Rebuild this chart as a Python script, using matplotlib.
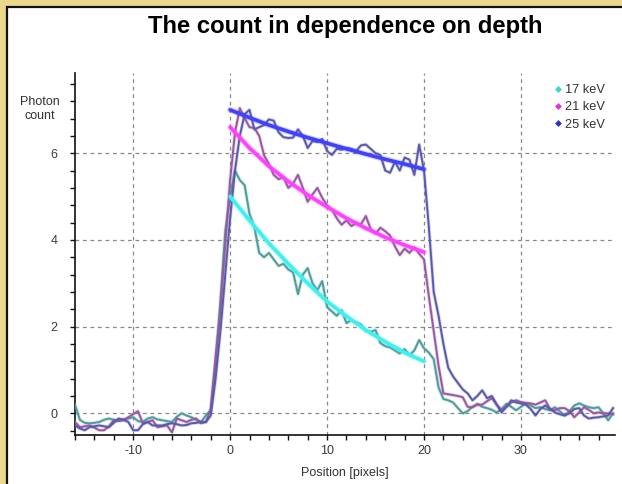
import numpy as np
import matplotlib
matplotlib.use("Agg")
import matplotlib.pyplot as plt
from matplotlib.lines import Line2D
from matplotlib.patches import Rectangle
from matplotlib.ticker import MultipleLocator
import matplotlib.patheffects as pe

plt.rcParams['font.family'] = ['Liberation Sans', 'DejaVu Sans']
plt.rcParams['axes.unicode_minus'] = False

# measured profiles, sampled every half pixel from -16 to 39.5
position = np.arange(-16, 40, 0.5)

count_17 = [
    0.20, -0.15, -0.22, -0.23, -0.22, -0.20, -0.15, -0.12,
    -0.15, -0.16, -0.14, -0.12, -0.09, -0.18, -0.20, -0.12,
    -0.09, -0.14, -0.16, -0.18, -0.20, -0.08, 0.00, -0.05,
    -0.09, -0.15, -0.20, -0.05, 0.07, 1.10, 2.60, 4.20,
    5.00, 5.60, 5.38, 5.26, 4.60, 4.30, 3.70, 3.60,
    3.70, 3.55, 3.40, 3.45, 3.32, 3.25, 2.75, 3.20,
    3.35, 3.00, 2.84, 3.05, 2.45, 2.35, 2.25, 2.38,
    2.08, 2.15, 2.10, 2.05, 1.90, 1.88, 1.92, 1.62,
    1.55, 1.52, 1.45, 1.38, 1.48, 1.34, 1.45, 1.69,
    1.50, 1.40, 1.25, 0.60, 0.33, 0.30, 0.25, 0.12,
    0.00, 0.05, 0.15, 0.22, 0.15, 0.12, 0.08, 0.02,
    0.10, 0.22, 0.15, 0.07, 0.15, 0.23, 0.18, 0.12,
    0.14, 0.10, 0.07, 0.14, 0.05, -0.05, 0.05, 0.18,
    0.23, 0.18, 0.14, 0.12, 0.14, 0.00, -0.16, 0.00,
]

count_21 = [
    -0.20, -0.32, -0.30, -0.28, -0.33, -0.39, -0.39, -0.30,
    -0.16, -0.18, -0.16, -0.09, -0.02, 0.05, -0.23, -0.20,
    -0.16, -0.32, -0.30, -0.28, -0.44, -0.12, -0.16, -0.20,
    -0.15, -0.12, -0.23, -0.20, 0.10, 1.30, 2.40, 3.90,
    5.38, 6.47, 7.04, 6.81, 6.60, 6.58, 6.40, 5.95,
    5.75, 5.50, 5.40, 5.45, 5.20, 5.30, 5.50, 5.20,
    4.88, 5.05, 5.20, 4.97, 4.80, 4.70, 4.50, 4.35,
    4.45, 4.32, 4.38, 4.36, 4.55, 4.25, 4.15, 4.28,
    4.20, 4.10, 3.85, 3.65, 3.80, 3.70, 3.83, 3.68,
    3.55, 2.70, 1.90, 1.10, 0.46, 0.44, 0.42, 0.40,
    0.37, 0.15, 0.14, 0.20, 0.20, 0.28, 0.35, 0.20,
    0.07, 0.15, 0.25, 0.30, 0.26, 0.24, 0.23, 0.20,
    0.25, 0.30, 0.10, 0.07, 0.12, 0.12, 0.05, -0.09,
    0.02, 0.14, 0.08, 0.00, 0.02, 0.00, 0.00, -0.02,
]

count_25 = [
    -0.28, -0.35, -0.39, -0.32, -0.30, -0.28, -0.30, -0.32,
    -0.22, -0.12, -0.15, -0.20, -0.39, -0.39, -0.25, -0.20,
    -0.28, -0.28, -0.28, -0.25, -0.23, -0.25, -0.28, -0.27,
    -0.23, -0.22, -0.20, -0.20, -0.05, 0.80, 1.90, 3.20,
    4.50, 5.60, 6.40, 6.90, 7.00, 6.55, 6.60, 6.65,
    6.78, 6.75, 6.48, 6.37, 6.35, 6.36, 6.55, 6.40,
    6.12, 6.28, 6.26, 6.33, 6.05, 5.96, 6.10, 6.08,
    6.12, 6.10, 6.05, 6.18, 6.20, 6.10, 6.00, 5.96,
    5.60, 5.55, 5.80, 5.60, 5.90, 5.85, 5.50, 6.20,
    5.60, 4.30, 2.80, 2.25, 1.60, 1.05, 0.85, 0.70,
    0.55, 0.46, 0.30, 0.40, 0.53, 0.35, 0.40, 0.20,
    0.02, 0.15, 0.30, 0.25, 0.23, 0.20, 0.10, -0.05,
    0.10, 0.18, 0.10, 0.02, -0.02, -0.05, 0.00, 0.10,
    0.12, -0.05, -0.12, -0.10, -0.09, -0.07, -0.05, 0.12,
]

# fitted curves inside the sample (0..20)
fit_x = [0, 2, 4, 6, 8, 10, 12, 14, 16, 18, 20]
fit_17 = [5.0, 4.45, 3.92, 3.45, 3.0, 2.58, 2.24, 1.92, 1.65, 1.4, 1.2]
fit_21 = [6.6, 6.12, 5.7, 5.35, 5.04, 4.76, 4.5, 4.27, 4.06, 3.88, 3.72]
fit_25 = [7.0, 6.82, 6.65, 6.5, 6.36, 6.23, 6.1, 5.98, 5.86, 5.75, 5.63]

labels = ['17 keV', '21 keV', '25 keV']
raw_colors = ['#4f9c9c', '#9a58a2', '#5a5aaa']
fit_colors = ['#3ff0f0', '#ff40ff', '#4040ff']
legend_colors = ['#30d8d8', '#e030e0', '#3030c8']

fig = plt.figure(figsize=(6.22, 4.84), dpi=100)
fig.patch.set_facecolor('#ecd88a')
fig.patches.append(Rectangle((7 / 622, -0.05), 1.0, 1 - 7 / 484 + 0.05,
                             transform=fig.transFigure, facecolor='white',
                             edgecolor='#111111', linewidth=1.6, zorder=-10))

ax = fig.add_axes([75 / 622, 49 / 484, 540 / 622, 362 / 484])
ax.set_facecolor('none')

for ys, c in zip([count_17, count_21, count_25], raw_colors):
    ax.plot(position, ys, color=c, lw=1.4, zorder=3,
            path_effects=[pe.Stroke(linewidth=2.6, foreground=c, alpha=0.25), pe.Normal()])

for ys, c in zip([fit_17, fit_21, fit_25], fit_colors):
    ax.plot(fit_x, ys, color=c, lw=2.6, zorder=4, solid_capstyle='round',
            path_effects=[pe.Stroke(linewidth=4.2, foreground=c, alpha=0.25), pe.Normal()])

ax.set_xlim(-16, 39.7)
ax.set_ylim(-0.5, 7.85)
ax.xaxis.set_major_locator(MultipleLocator(10))
ax.xaxis.set_minor_locator(MultipleLocator(2))
ax.yaxis.set_major_locator(MultipleLocator(2))
ax.yaxis.set_minor_locator(MultipleLocator(0.4))

for s in ['top', 'right']:
    ax.spines[s].set_visible(False)
for s in ['left', 'bottom']:
    ax.spines[s].set_linewidth(1.2)
    ax.spines[s].set_color('#111111')

ax.tick_params(which='both', direction='out', length=3.5, width=1, color='#111111',
               labelsize=9, labelcolor='#3a3a3a')
ax.tick_params(axis='y', which='major', pad=9)
ax.tick_params(axis='x', which='major', pad=4)
ax.grid(True, which='major', color='#888888', linestyle=(0, (3, 3)), linewidth=0.9)

fig.text(345 / 622, 1 - 27 / 484, 'The count in dependence on depth',
         ha='center', va='center', fontsize=17.2, fontweight='bold', color='black')
fig.text(345 / 622, 1 - 473 / 484, 'Position [pixels]', ha='center', va='center',
         fontsize=9, color='#333333')
fig.text(40 / 622, 1 - 109 / 484, 'Photon\ncount', ha='center', va='center',
         fontsize=9, color='#333333', linespacing=1.25)

handles = [Line2D([], [], marker='D', linestyle='none', markersize=3.5,
                  color=c, markeredgewidth=0) for c in legend_colors]
ax.legend(handles, labels, loc='upper right', bbox_to_anchor=(611 / 622, 1 - 78 / 484),
          bbox_transform=fig.transFigure, frameon=False, fontsize=9.2,
          handlelength=0.6, handletextpad=0.2, labelspacing=0.4, borderpad=0,
          labelcolor='#333333')

fig.savefig('out.png', dpi=100, facecolor=fig.get_facecolor())
